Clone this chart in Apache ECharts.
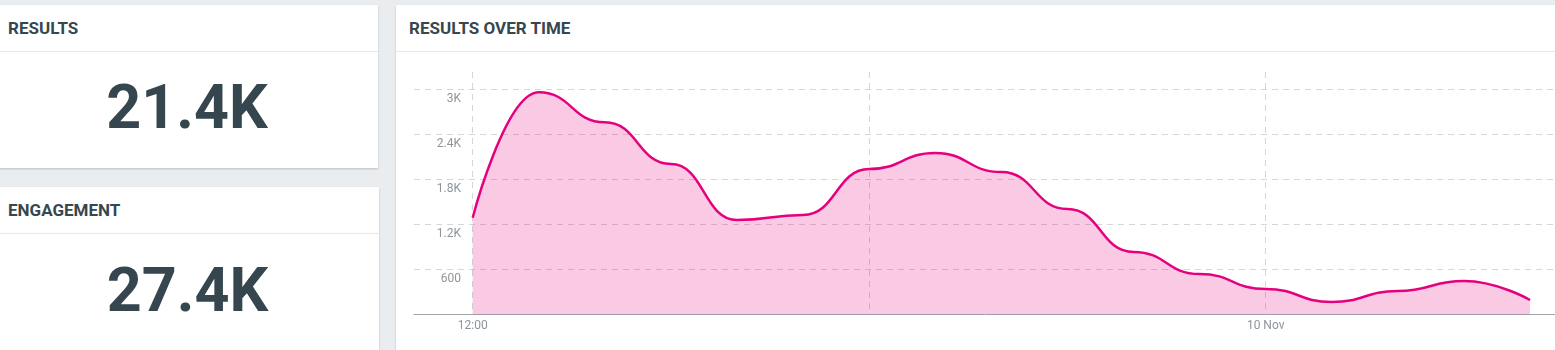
<!DOCTYPE html>
<html>
<head>
<meta charset="utf-8">
<script src="https://cdn.jsdelivr.net/npm/echarts@6/dist/echarts.min.js"></script>
<style>
html,body{margin:0;padding:0;width:1555px;height:350px;overflow:hidden;background:#e9edf0;font-family:Roboto,"Noto Sans",sans-serif;}
.card{position:absolute;background:#fff;box-shadow:0 1px 2px rgba(0,0,0,0.2);}
.hdr{position:absolute;left:0;right:0;top:0;height:47px;border-bottom:1px solid #e5e9ec;box-sizing:border-box;line-height:47px;font-weight:700;font-size:17px;color:#37474f;}
.big{position:absolute;left:0;right:0;text-align:center;font-weight:700;font-size:61px;line-height:70px;color:#36464f;}
</style>
</head>
<body>
<div class="card" style="left:-10px;top:5px;width:388px;height:163px;">
  <div class="hdr" style="padding-left:18px;">RESULTS</div>
  <div class="big" id="kpi1" style="top:67px;padding-left:6px;"></div>
</div>
<div class="card" style="left:-10px;top:187px;width:389px;height:200px;">
  <div class="hdr" style="padding-left:18px;">ENGAGEMENT</div>
  <div class="big" id="kpi2" style="top:68px;padding-left:6px;"></div>
</div>
<div class="card" style="left:396px;top:5px;width:1200px;height:400px;">
  <div class="hdr" style="padding-left:13px;">RESULTS OVER TIME</div>
  <div id="chart" style="position:absolute;left:0;top:47px;width:1159px;height:298px;"></div>
</div>
<script>
// KPI values
const kpiResults = '21.4K';
const kpiEngagement = '27.4K';
// hours since 12:00 (9 Nov)
const hours = [0, 1, 2, 3, 4, 5, 6, 7, 8, 9, 10, 11, 12, 13, 14, 15, 16];
const results = [1288, 2960, 2560, 2004, 1257, 1324, 1937, 2151, 1897, 1404, 831, 537, 337, 164, 311, 444, 191];
const xTickHours = [0, 6, 12];
const xLabelHours = [0, 12];
const xLabelText = {0: '12:00', 12: '10 Nov'};
const yTicks = [0, 600, 1200, 1800, 2400, 3000];
const yLabelValues = [600, 1200, 1800, 2400, 3000];

document.getElementById('kpi1').textContent = kpiResults;
document.getElementById('kpi2').textContent = kpiEngagement;

const chart = echarts.init(document.getElementById('chart'), null, {renderer: 'canvas'});
chart.setOption({
  animation: false,
  grid: {left: 18, right: 0, top: 20, bottom: 35.7, containLabel: false},
  xAxis: {
    type: 'value',
    min: -0.888,
    max: 16.378,
    axisLine: {show: true, lineStyle: {color: '#9ea5aa', width: 1}},
    axisTick: {show: false, customValues: xTickHours},
    axisLabel: {
      customValues: xLabelHours,
      formatter: v => xLabelText[v] || '',
      color: '#8d959b', fontSize: 12, fontFamily: 'Roboto', margin: 6
    },
    splitLine: {show: true, lineStyle: {color: '#d6d6d6', type: [6, 5], width: 1}}
  },
  yAxis: {
    type: 'value',
    min: 0,
    max: 3231,
    axisLine: {show: false},
    axisTick: {show: false, customValues: yTicks},
    axisLabel: {
      customValues: yLabelValues,
      inside: true,
      margin: 47,
      align: 'right',
      verticalAlign: 'top',
      padding: [4, 0, 0, 0],
      formatter: v => v >= 1000 ? (v / 1000) + 'K' : String(v),
      color: '#8d959b', fontSize: 12, fontFamily: 'Roboto'
    },
    splitLine: {show: true, lineStyle: {color: '#d6d6d6', type: [6, 5], width: 1}}
  },
  series: [{
    type: 'line',
    smooth: 0.5,
    smoothMonotone: 'x',
    symbol: 'none',
    data: hours.map((h, i) => [h, results[i]]),
    lineStyle: {color: '#e6007e', width: 2.5},
    areaStyle: {color: 'rgba(230,0,126,0.21)', opacity: 1}
  }]
});
</script>
</body>
</html>
